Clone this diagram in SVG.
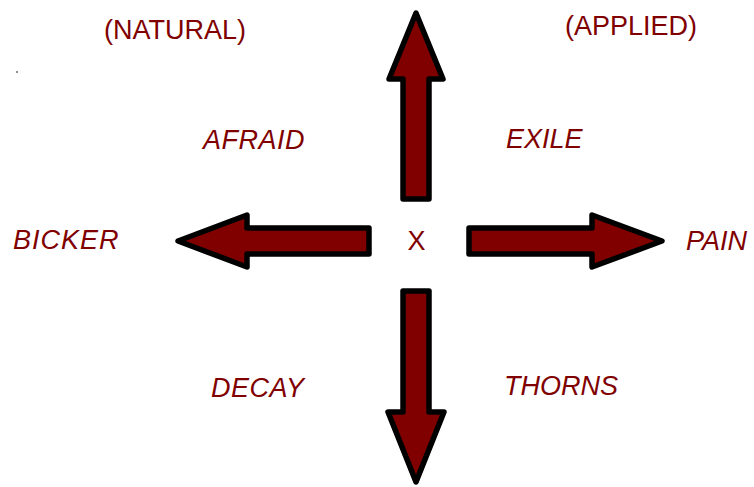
<svg xmlns="http://www.w3.org/2000/svg" width="754" height="487" viewBox="0 0 754 487">
<style>
.arr{fill:#800000;stroke:#000;stroke-width:5.5;stroke-linejoin:round}
.t{font-family:"Liberation Sans",Arial,sans-serif;font-size:27px;fill:#800000}
.i{font-style:italic}
</style>
<rect width="754" height="487" fill="#fff"/>
<g id="connectors">
<polygon id="arrow-up" class="arr" points="416,13 443,79 429,79 429,199 403,199 403,79 389,79"/>
<polygon id="arrow-left" class="arr" points="178,241 247,215 247,228 369,228 369,254 247,254 247,267"/>
<polygon id="arrow-right" class="arr" points="469,228 592,228 592,215 662,241 592,267 592,254 469,254"/>
<polygon id="arrow-down" class="arr" points="403,291 429,291 429,412 444,412 416,482 388,412 403,412"/>
</g>
<circle cx="17" cy="72" r="0.8" fill="#000"/>
<g id="natural"><text class="t" x="104" y="39">(NATURAL)</text></g>
<g id="applied"><text class="t" x="565" y="35">(APPLIED)</text></g>
<g id="afraid"><text class="t i" x="203" y="149" letter-spacing="0.5">AFRAID</text></g>
<g id="exile"><text class="t i" x="506" y="148">EXILE</text></g>
<g id="bicker"><text class="t i" x="13" y="249" letter-spacing="1">BICKER</text></g>
<g id="x"><text class="t" x="416.5" y="250" text-anchor="middle">X</text></g>
<g id="pain"><text class="t i" x="686" y="250">PAIN</text></g>
<g id="decay"><text class="t i" x="211" y="397" letter-spacing="0.5">DECAY</text></g>
<g id="thorns"><text class="t i" x="504" y="395">THORNS</text></g>
</svg>
